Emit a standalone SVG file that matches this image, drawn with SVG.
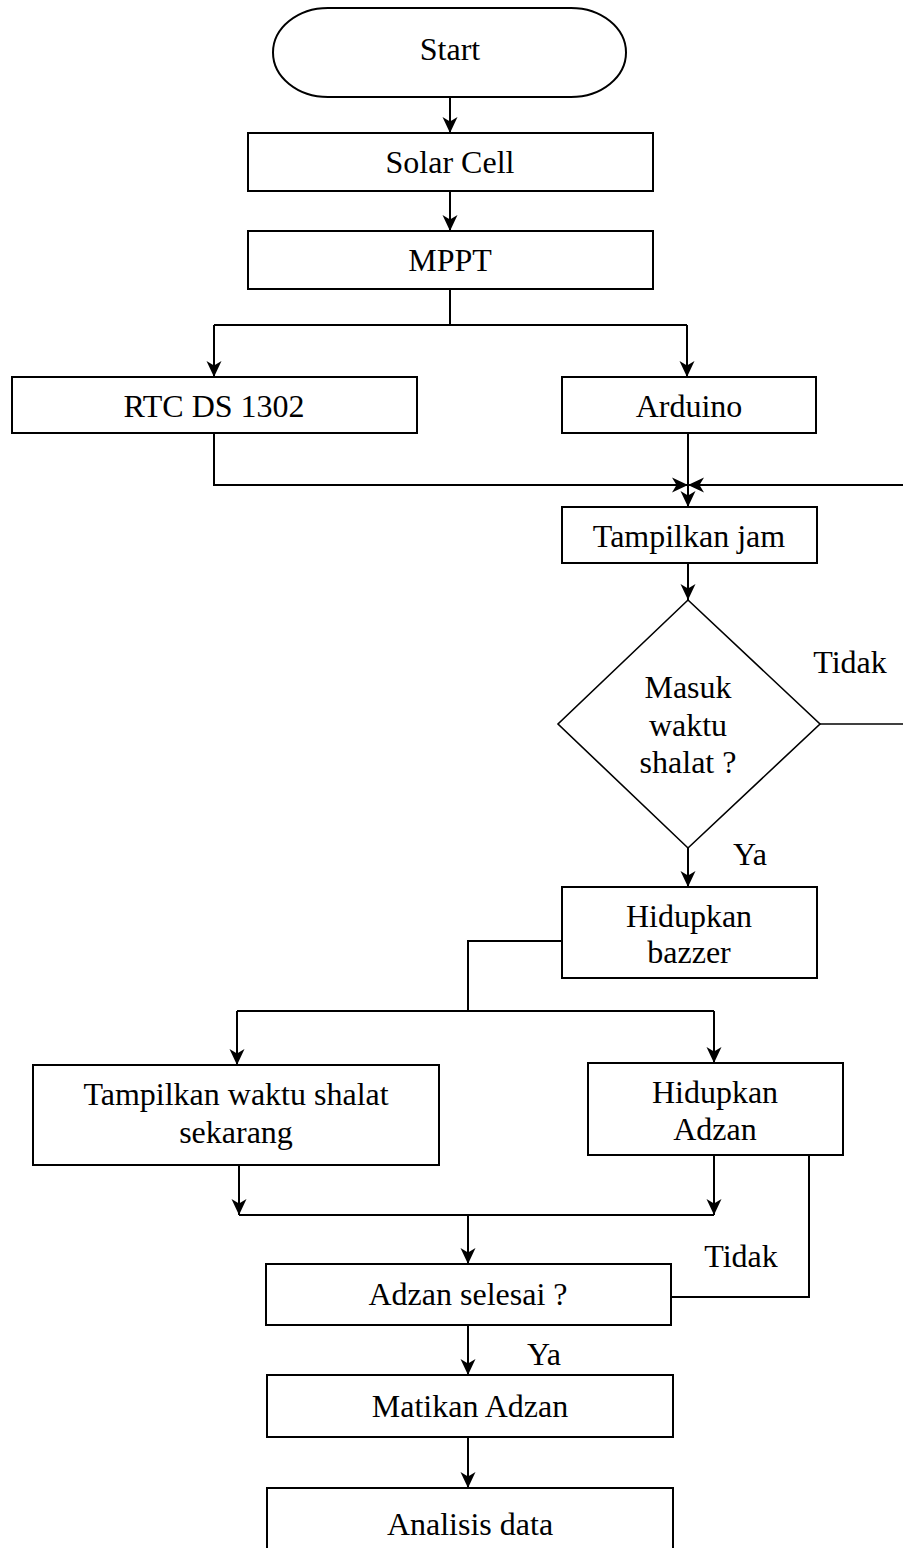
<svg xmlns="http://www.w3.org/2000/svg" width="903" height="1548" viewBox="0 0 903 1548">
<style>
.box{fill:#fff;stroke:#000;stroke-width:2}
.dia{fill:#fff;stroke:#000;stroke-width:1.6}
.t{font-family:"Liberation Serif","Times New Roman",serif;font-size:32px;fill:#000;text-anchor:middle}
.c{fill:none;stroke:#000;stroke-width:2}
.a{fill:none;stroke:#000;stroke-width:2;marker-end:url(#ah)}
</style>
<defs>
<marker id="ah" markerUnits="userSpaceOnUse" markerWidth="18" markerHeight="18" refX="16" refY="8" orient="auto" overflow="visible">
<path d="M0,0.5 L16,8 L0,15.5 L4.5,8 Z" fill="#000"/>
</marker>
</defs>
<rect width="903" height="1548" fill="#fff"/>
<g id="connectors">
<path class="a" d="M450,97 V133"/>
<path class="a" d="M450,191 V231"/>
<path class="c" d="M450,289 V325"/>
<path class="c" d="M214,325 H687"/>
<path class="a" d="M214,325 V377"/>
<path class="a" d="M687,325 V377"/>
<path class="a" d="M214,433 V485 H688"/>
<path class="a" d="M903,485 H688"/>
<path class="a" d="M688,433 V507"/>
<path class="a" d="M688,563 V600"/>
<path class="c" d="M820,724 H903" style="stroke-width:1.6"/>
<path class="a" d="M688,848 V887"/>
<path class="c" d="M562,941 H468 V1011"/>
<path class="c" d="M237,1011 H714"/>
<path class="a" d="M237,1011 V1065"/>
<path class="a" d="M714,1011 V1063"/>
<path class="a" d="M239,1165 V1215"/>
<path class="a" d="M714,1155 V1215"/>
<path class="c" d="M239,1215 H714"/>
<path class="a" d="M468,1215 V1264"/>
<path class="c" d="M809,1153 V1297 H671"/>
<path class="a" d="M468,1325 V1375"/>
<path class="a" d="M468,1437 V1488"/>
<text class="t" x="850" y="673">Tidak</text>
<text class="t" x="750" y="865">Ya</text>
<text class="t" x="741" y="1267">Tidak</text>
<text class="t" x="544" y="1365">Ya</text>
</g>
<g id="start">
<rect class="box" x="273" y="8" width="353" height="89" rx="55" ry="44.5"/>
<text class="t" x="450" y="60">Start</text>
</g>
<g id="solar-cell">
<rect class="box" x="248" y="133" width="405" height="58"/>
<text class="t" x="450" y="173">Solar Cell</text>
</g>
<g id="mppt">
<rect class="box" x="248" y="231" width="405" height="58"/>
<text class="t" x="450" y="271">MPPT</text>
</g>
<g id="rtc">
<rect class="box" x="12" y="377" width="405" height="56"/>
<text class="t" x="214" y="417">RTC DS 1302</text>
</g>
<g id="arduino">
<rect class="box" x="562" y="377" width="254" height="56"/>
<text class="t" x="689" y="417">Arduino</text>
</g>
<g id="tampilkan-jam">
<rect class="box" x="562" y="507" width="255" height="56"/>
<text class="t" x="689" y="547">Tampilkan jam</text>
</g>
<g id="masuk-waktu">
<polygon class="dia" points="688,600 820,724 688,848 558,724"/>
<text class="t" x="688" y="698">Masuk</text>
<text class="t" x="688" y="736">waktu</text>
<text class="t" x="688" y="773">shalat ?</text>
</g>
<g id="hidupkan-bazzer">
<rect class="box" x="562" y="887" width="255" height="91"/>
<text class="t" x="689" y="927">Hidupkan</text>
<text class="t" x="689" y="963">bazzer</text>
</g>
<g id="tampilkan-waktu">
<rect class="box" x="33" y="1065" width="406" height="100"/>
<text class="t" x="236" y="1105">Tampilkan waktu shalat</text>
<text class="t" x="236" y="1143">sekarang</text>
</g>
<g id="hidupkan-adzan">
<rect class="box" x="588" y="1063" width="255" height="92"/>
<text class="t" x="715" y="1103">Hidupkan</text>
<text class="t" x="715" y="1140">Adzan</text>
</g>
<g id="adzan-selesai">
<rect class="box" x="266" y="1264" width="405" height="61"/>
<text class="t" x="468" y="1305">Adzan selesai ?</text>
</g>
<g id="matikan-adzan">
<rect class="box" x="267" y="1375" width="406" height="62"/>
<text class="t" x="470" y="1417">Matikan Adzan</text>
</g>
<g id="analisis-data">
<rect class="box" x="267" y="1488" width="406" height="80"/>
<text class="t" x="470" y="1535">Analisis data</text>
</g>
</svg>
